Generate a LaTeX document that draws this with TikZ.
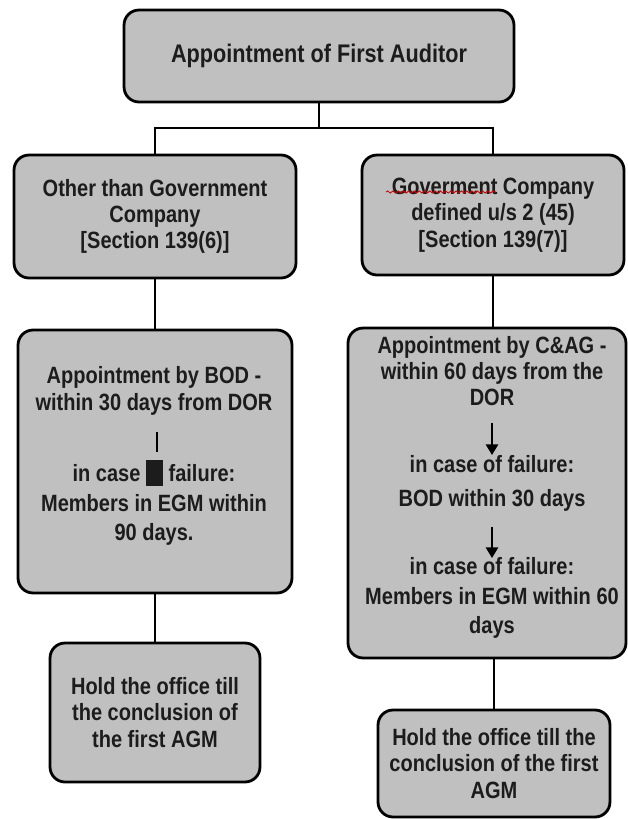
\documentclass[tikz,border=0pt]{standalone}
\usepackage{fontspec}
\setmainfont{Liberation Sans}[FakeStretch=0.85]
\usetikzlibrary{arrows.meta,decorations.pathmorphing}
\definecolor{boxgrey}{RGB}{192,192,192}
\definecolor{inkgrey}{RGB}{28,28,28}
\begin{document}
\begin{tikzpicture}[x=0.02cm,y=-0.02cm,
    chartbox/.style={draw=black,line width=1.6pt,fill=boxgrey,rounded corners=0.3cm,
      text=inkgrey,font=\fontsize{13.4}{15}\selectfont\bfseries,align=center,inner sep=0pt},
    chartline/.style={line width=1.6pt},
    boxtext/.style={text=inkgrey,font=\fontsize{13.4}{15}\selectfont\bfseries,align=center,inner sep=0pt},
    steparrow/.style={line width=0.9pt,-{Triangle[width=7pt,length=6pt]}}]
    \useasboundingbox (0,0) rectangle (628,819);

    \node[chartbox,minimum width=7.8cm,minimum height=1.84cm] (first) at (319,56)
      {\fontsize{14.5}{15}\selectfont Appointment of First Auditor};

    \node[chartbox,minimum width=5.64cm,minimum height=2.46cm] (other) at (155,216.5)
      {Other than Government\\Company\\{[}Section 139(6)]};
    \node[chartbox,minimum width=5.24cm,minimum height=2.4cm] (govt) at (493,215)
      {Goverment Company\\defined u/s 2 (45)\\{[}Section 139(7)]};
    \draw[red!80!black,line width=0.5pt,decorate,
      decoration={snake,amplitude=0.6pt,segment length=3pt}] (386,192) -- (496,192);

    \coordinate (split) at (319,128);
    \draw[chartline] (first) -- (split);
    \draw[chartline] (other.north) |- (split) -| (govt.north);

    % appointment boxes
    \node[chartbox,minimum width=5.48cm,minimum height=5.26cm] (bod) at (155,461.5) {};
    \node[chartbox,minimum width=5.56cm,minimum height=6.6cm] (cag) at (487,493) {};
    \draw[chartline] (other) -- (bod);
    \draw[chartline] (govt) -- (govt |- cag.north);

    \node[boxtext] (bodA) at (154,391) {Appointment by BOD -\\within 30 days from DOR};
    \node[boxtext] (bodB) at (154,503)
      {in case \rule[-0.1cm]{0.34cm}{0.52cm} failure:\\[2pt]Members in EGM within\\[2pt]90 days.};
    \draw[line width=0.6pt] (157,432) -- (157,452);

    \node[boxtext] (cagA) at (492,371) {Appointment by C\&AG -\\within 60 days from the\\DOR};
    \node[boxtext] (cagB) at (492,483.5) {in case of failure:\\[4pt]BOD within 30 days};
    \node[boxtext] (cagC) at (492,598) {in case of failure:\\[2pt]Members in EGM within 60\\[2pt]days};
    \draw[steparrow] (492,423) -- (492,455);
    \draw[steparrow] (492,527) -- (492,558);

    % tenure boxes
    \node[chartbox,minimum width=4.2cm,minimum height=2.78cm] (holdL) at (155,712.5)
      {Hold the office till\\the conclusion of\\the first AGM};
    \node[chartbox,minimum width=4.64cm,minimum height=2.14cm] (holdR) at (494,763.5)
      {Hold the office till the\\conclusion of the first\\AGM};
    \draw[chartline] (bod) -- (holdL);
    \draw[chartline] (cag.south -| holdR) -- (holdR);
\end{tikzpicture}
\end{document}
